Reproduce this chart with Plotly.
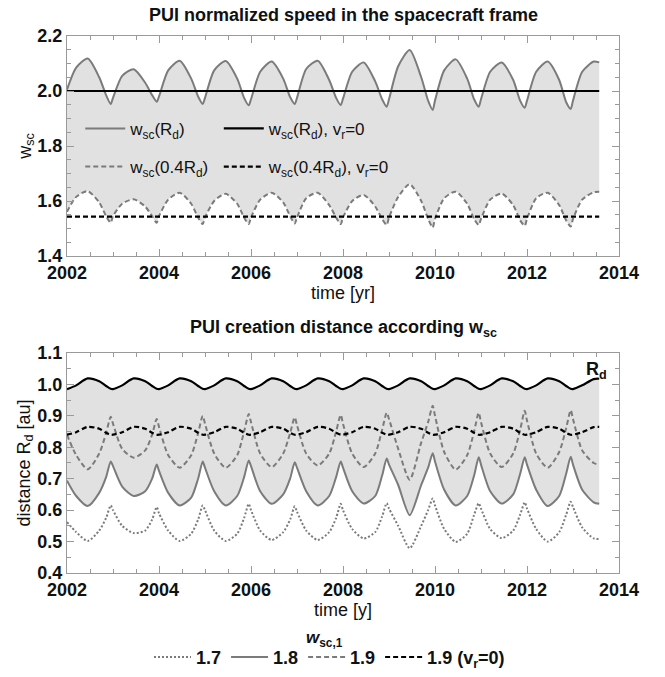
import plotly.graph_objects as go

# Sample times (years); six samples per year plus the final epoch
TIME = [
    2002.0, 2002.2, 2002.45, 2002.7, 2002.85, 2002.95,
    2003.0, 2003.2, 2003.45, 2003.7, 2003.85, 2003.95,
    2004.0, 2004.2, 2004.45, 2004.7, 2004.85, 2004.95,
    2005.0, 2005.2, 2005.45, 2005.7, 2005.85, 2005.95,
    2006.0, 2006.2, 2006.45, 2006.7, 2006.85, 2006.95,
    2007.0, 2007.2, 2007.45, 2007.7, 2007.85, 2007.95,
    2008.0, 2008.2, 2008.45, 2008.7, 2008.85, 2008.95,
    2009.0, 2009.2, 2009.45, 2009.7, 2009.85, 2009.95,
    2010.0, 2010.2, 2010.45, 2010.7, 2010.85, 2010.95,
    2011.0, 2011.2, 2011.45, 2011.7, 2011.85, 2011.95,
    2012.0, 2012.2, 2012.45, 2012.7, 2012.85, 2012.95,
    2013.0, 2013.2, 2013.45, 2013.57,
]

# PUI normalized speed in the spacecraft frame
WSC_RD = [
    2.005, 2.085, 2.118, 2.050, 1.985, 1.953,
    1.975, 2.055, 2.079, 2.030, 1.985, 1.961,
    1.980, 2.075, 2.110, 2.045, 1.980, 1.953,
    1.975, 2.075, 2.109, 2.045, 1.975, 1.948,
    1.970, 2.070, 2.107, 2.045, 1.978, 1.953,
    1.975, 2.080, 2.110, 2.040, 1.975, 1.949,
    1.972, 2.070, 2.104, 2.035, 1.970, 1.943,
    1.970, 2.090, 2.149, 2.050, 1.965, 1.931,
    1.965, 2.075, 2.115, 2.045, 1.970, 1.943,
    1.970, 2.070, 2.104, 2.040, 1.965, 1.939,
    1.965, 2.070, 2.107, 2.040, 1.960, 1.935,
    1.965, 2.070, 2.107, 2.104,
]
WSC_04RD = [
    1.561, 1.615, 1.636, 1.595, 1.545, 1.521,
    1.545, 1.590, 1.606, 1.580, 1.545, 1.521,
    1.545, 1.605, 1.630, 1.590, 1.540, 1.516,
    1.540, 1.600, 1.626, 1.590, 1.540, 1.516,
    1.540, 1.605, 1.630, 1.595, 1.545, 1.518,
    1.540, 1.610, 1.630, 1.585, 1.540, 1.516,
    1.540, 1.600, 1.622, 1.580, 1.535, 1.513,
    1.540, 1.615, 1.661, 1.600, 1.535, 1.504,
    1.535, 1.610, 1.634, 1.590, 1.535, 1.513,
    1.535, 1.605, 1.627, 1.585, 1.530, 1.510,
    1.535, 1.610, 1.630, 1.585, 1.530, 1.507,
    1.535, 1.605, 1.632, 1.634,
]
WSC_RD_VR0 = 2.0
WSC_04RD_VR0 = 1.543

# PUI creation distance [au]
DIST_RD = [
    0.985, 0.997, 1.019, 1.010, 0.995, 0.986,
    0.985, 0.997, 1.019, 1.010, 0.995, 0.986,
    0.985, 0.997, 1.019, 1.010, 0.995, 0.986,
    0.985, 0.997, 1.019, 1.010, 0.995, 0.986,
    0.985, 0.997, 1.019, 1.010, 0.995, 0.986,
    0.985, 0.997, 1.019, 1.010, 0.995, 0.986,
    0.985, 0.997, 1.019, 1.010, 0.995, 0.986,
    0.985, 0.997, 1.019, 1.010, 0.995, 0.986,
    0.985, 0.997, 1.019, 1.010, 0.995, 0.986,
    0.985, 0.997, 1.019, 1.010, 0.995, 0.986,
    0.985, 0.997, 1.019, 1.010, 0.995, 0.986,
    0.985, 0.997, 1.017, 1.018,
]
DIST_17 = [
    0.562, 0.530, 0.502, 0.535, 0.575, 0.615,
    0.600, 0.550, 0.527, 0.535, 0.570, 0.610,
    0.590, 0.535, 0.502, 0.525, 0.570, 0.615,
    0.600, 0.535, 0.502, 0.525, 0.575, 0.620,
    0.600, 0.535, 0.505, 0.530, 0.570, 0.612,
    0.595, 0.535, 0.505, 0.530, 0.575, 0.620,
    0.600, 0.540, 0.510, 0.530, 0.580, 0.622,
    0.605, 0.550, 0.479, 0.550, 0.600, 0.637,
    0.615, 0.540, 0.499, 0.525, 0.585, 0.622,
    0.605, 0.540, 0.511, 0.535, 0.585, 0.625,
    0.605, 0.540, 0.500, 0.530, 0.585, 0.627,
    0.610, 0.545, 0.510, 0.508,
]
DIST_18 = [
    0.694, 0.645, 0.613, 0.655, 0.705, 0.755,
    0.740, 0.675, 0.645, 0.660, 0.700, 0.745,
    0.725, 0.655, 0.615, 0.640, 0.700, 0.755,
    0.735, 0.660, 0.615, 0.645, 0.705, 0.758,
    0.740, 0.660, 0.620, 0.650, 0.700, 0.752,
    0.735, 0.660, 0.615, 0.645, 0.705, 0.755,
    0.735, 0.660, 0.621, 0.645, 0.710, 0.764,
    0.745, 0.680, 0.584, 0.680, 0.735, 0.781,
    0.755, 0.665, 0.615, 0.645, 0.710, 0.768,
    0.745, 0.660, 0.621, 0.650, 0.715, 0.768,
    0.745, 0.665, 0.613, 0.645, 0.715, 0.770,
    0.745, 0.665, 0.625, 0.620,
]
DIST_19 = [
    0.840, 0.775, 0.730, 0.780, 0.845, 0.897,
    0.875, 0.795, 0.767, 0.790, 0.840, 0.890,
    0.865, 0.775, 0.735, 0.775, 0.845, 0.900,
    0.875, 0.780, 0.735, 0.775, 0.850, 0.906,
    0.880, 0.780, 0.737, 0.780, 0.845, 0.895,
    0.870, 0.780, 0.742, 0.780, 0.850, 0.903,
    0.875, 0.780, 0.737, 0.780, 0.855, 0.910,
    0.890, 0.795, 0.697, 0.815, 0.880, 0.932,
    0.900, 0.785, 0.729, 0.775, 0.850, 0.910,
    0.880, 0.780, 0.737, 0.780, 0.855, 0.916,
    0.885, 0.780, 0.735, 0.785, 0.860, 0.918,
    0.890, 0.790, 0.750, 0.745,
]
DIST_19_VR0 = [
    0.840, 0.848, 0.865, 0.859, 0.846, 0.840,
    0.840, 0.848, 0.865, 0.859, 0.846, 0.840,
    0.840, 0.848, 0.865, 0.859, 0.846, 0.840,
    0.840, 0.848, 0.865, 0.859, 0.846, 0.840,
    0.840, 0.848, 0.865, 0.859, 0.846, 0.840,
    0.840, 0.848, 0.865, 0.859, 0.846, 0.840,
    0.840, 0.848, 0.865, 0.859, 0.846, 0.840,
    0.840, 0.848, 0.865, 0.859, 0.846, 0.840,
    0.840, 0.848, 0.865, 0.859, 0.846, 0.840,
    0.840, 0.848, 0.865, 0.859, 0.846, 0.840,
    0.840, 0.848, 0.865, 0.859, 0.846, 0.840,
    0.840, 0.848, 0.864, 0.865,
]

X_TICKS = [2002, 2004, 2006, 2008, 2010, 2012, 2014]

FONT = "Liberation Sans, Arial, sans-serif"
INK = "#111111"
GRAY = "#7b7b7b"
FILL = "#e1e1e1"
FRAME = "#9a9a9a"
SPLINE = dict(shape="spline", smoothing=0.7)

fig = go.Figure()

# ---- upper panel: normalized speed ----
fig.add_trace(go.Scatter(
    x=TIME, y=WSC_RD, mode="lines", line=dict(width=0, **SPLINE),
    hoverinfo="skip", showlegend=False, xaxis="x", yaxis="y"))
fig.add_trace(go.Scatter(
    x=TIME, y=WSC_04RD, mode="lines", fill="tonexty", fillcolor=FILL,
    line=dict(width=0, **SPLINE), hoverinfo="skip", showlegend=False, xaxis="x", yaxis="y"))
fig.add_trace(go.Scatter(
    x=TIME, y=WSC_RD, mode="lines", line=dict(color=GRAY, width=2, **SPLINE),
    name="w<sub>sc</sub>(R<sub>d</sub>)", legend="legend", xaxis="x", yaxis="y"))
fig.add_trace(go.Scatter(
    x=TIME, y=WSC_04RD, mode="lines",
    line=dict(color=GRAY, width=2, dash="5px,3px", **SPLINE),
    name="w<sub>sc</sub>(0.4R<sub>d</sub>)", legend="legend3", xaxis="x", yaxis="y"))
fig.add_trace(go.Scatter(
    x=[TIME[0], TIME[-1]], y=[WSC_RD_VR0, WSC_RD_VR0], mode="lines",
    line=dict(color="black", width=2.2),
    name="w<sub>sc</sub>(R<sub>d</sub>), v<sub>r</sub>=0", legend="legend2", xaxis="x", yaxis="y"))
fig.add_trace(go.Scatter(
    x=[TIME[0], TIME[-1]], y=[WSC_04RD_VR0, WSC_04RD_VR0], mode="lines",
    line=dict(color="black", width=2.2, dash="5px,3px"),
    name="w<sub>sc</sub>(0.4R<sub>d</sub>), v<sub>r</sub>=0", legend="legend4", xaxis="x", yaxis="y"))

# ---- lower panel: creation distance ----
fig.add_trace(go.Scatter(
    x=TIME, y=DIST_RD, mode="lines", line=dict(width=0, shape="spline", smoothing=0.8),
    hoverinfo="skip", showlegend=False, xaxis="x2", yaxis="y2"))
fig.add_trace(go.Scatter(
    x=TIME, y=DIST_18, mode="lines", fill="tonexty", fillcolor=FILL,
    line=dict(width=0, **SPLINE), hoverinfo="skip", showlegend=False, xaxis="x2", yaxis="y2"))
fig.add_trace(go.Scatter(
    x=TIME, y=DIST_RD, mode="lines", line=dict(color="black", width=2.2, shape="spline", smoothing=0.8),
    showlegend=False, xaxis="x2", yaxis="y2"))
fig.add_trace(go.Scatter(
    x=TIME, y=DIST_17, mode="lines",
    line=dict(color=GRAY, width=2, dash="2px,2px", **SPLINE),
    name="1.7", legend="legend5", legendrank=1, xaxis="x2", yaxis="y2"))
fig.add_trace(go.Scatter(
    x=TIME, y=DIST_18, mode="lines", line=dict(color=GRAY, width=2, **SPLINE),
    name="1.8", legend="legend5", legendrank=2, xaxis="x2", yaxis="y2"))
fig.add_trace(go.Scatter(
    x=TIME, y=DIST_19, mode="lines",
    line=dict(color=GRAY, width=2, dash="5px,3px", **SPLINE),
    name="1.9", legend="legend5", legendrank=3, xaxis="x2", yaxis="y2"))
fig.add_trace(go.Scatter(
    x=TIME, y=DIST_19_VR0, mode="lines",
    line=dict(color="black", width=2.2, dash="5px,3px", shape="spline", smoothing=0.8),
    name="1.9 (v<sub>r</sub>=0)", legend="legend5", legendrank=4, xaxis="x2", yaxis="y2"))

tickfont = dict(family=FONT, size=18, color=INK, weight="bold")
titlefont = dict(family=FONT, size=18, color=INK)


def xaxis_cfg(anchor, title):
    return dict(
        range=[2002, 2014], tickvals=X_TICKS, tickformat="d", anchor=anchor,
        showline=True, linecolor=FRAME, linewidth=1, mirror="ticks",
        ticks="inside", ticklen=7, tickcolor=FRAME, tickwidth=1,
        minor=dict(dtick=0.5, tick0=2002, ticks="inside", ticklen=4, tickcolor=FRAME, tickwidth=1),
        showgrid=False, zeroline=False, tickfont=tickfont,
        title=dict(text=title, font=titlefont, standoff=4),
    )


def yaxis_cfg(anchor, rng, dtick, domain, title, standoff):
    return dict(
        range=rng, dtick=dtick, tickformat=".1f", anchor=anchor, domain=domain,
        showline=True, linecolor=FRAME, linewidth=1, mirror="ticks",
        ticks="inside", ticklen=7, tickcolor=FRAME, tickwidth=1,
        minor=dict(dtick=0.05, ticks="inside", ticklen=4, tickcolor=FRAME, tickwidth=1),
        showgrid=False, zeroline=False, tickfont=tickfont,
        title=dict(text=title, font=titlefont, standoff=standoff),
    )


def single_legend(x, y, size=17, bold=False, itemwidth=40):
    font = dict(family=FONT, size=size, color=INK)
    if bold:
        font["weight"] = "bold"
    return dict(orientation="h", x=x, y=y, xanchor="left", yanchor="middle",
                bgcolor="rgba(0,0,0,0)", font=font, traceorder="normal",
                itemwidth=itemwidth)


fig.update_layout(
    width=665, height=677,
    margin=dict(l=67, r=46, t=36, b=104, autoexpand=False),
    paper_bgcolor="white", plot_bgcolor="white",
    font=dict(family=FONT, color=INK),
    xaxis=xaxis_cfg("y", "time [yr]"),
    yaxis=yaxis_cfg("x", [1.4, 2.2], 0.2, [0.5903, 1.0], "w<sub>sc</sub>", 0),
    xaxis2=xaxis_cfg("y2", "time [y]"),
    yaxis2=yaxis_cfg("x2", [0.4, 1.1], 0.1, [0.0, 0.4097], "distance R<sub>d</sub> [au]", 2),
    legend=single_legend(0.024, 0.827),
    legend2=single_legend(0.275, 0.827),
    legend3=single_legend(0.024, 0.756),
    legend4=single_legend(0.275, 0.756),
    legend5=single_legend(0.1486, -0.157, size=18, bold=True, itemwidth=37),
    showlegend=True,
    annotations=[
        dict(text="<b>PUI normalized speed in the spacecraft frame</b>", xref="paper", yref="paper",
             x=0.5, y=1.039, xanchor="center", yanchor="middle", showarrow=False,
             font=dict(family=FONT, size=18, color=INK)),
        dict(text="<b>PUI creation distance according w<sub>sc</sub></b>", xref="paper", yref="paper",
             x=0.5, y=0.456, xanchor="center", yanchor="middle", showarrow=False,
             font=dict(family=FONT, size=18, color=INK)),
        dict(text="<b>R<sub>d</sub></b>", xref="x2", yref="y2", x=2013.52, y=1.045,
             xanchor="center", yanchor="middle", showarrow=False,
             font=dict(family=FONT, size=18, color=INK)),
        dict(text="<b><i>w</i><sub>sc,1</sub></b>", xref="paper", yref="paper",
             x=0.467, y=-0.122, xanchor="center", yanchor="middle", showarrow=False,
             font=dict(family=FONT, size=17, color=INK)),
    ],
)

fig.write_html("out.html")
